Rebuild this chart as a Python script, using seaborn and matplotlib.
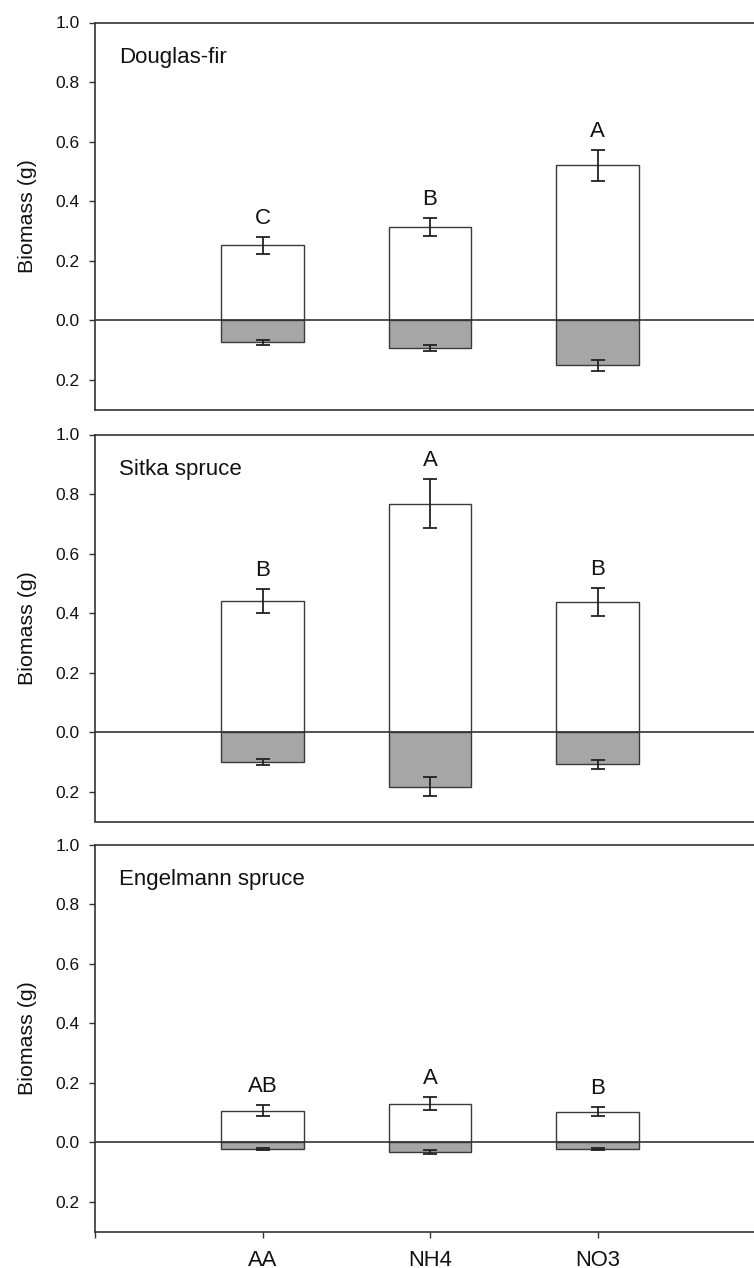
import numpy as np
import pandas as pd
import matplotlib
matplotlib.use("Agg")
import matplotlib.pyplot as plt
import seaborn as sns

sns.set_theme(style="white")
plt.rcParams["font.family"] = ["Liberation Sans", "DejaVu Sans"]

treatments = ["AA", "NH4", "NO3"]
species = ["Douglas-fir", "Sitka spruce", "Engelmann spruce"]

# shoot biomass (g), above zero
shoot_mean = [
    [0.251, 0.314, 0.520],
    [0.440, 0.767, 0.438],
    [0.107, 0.130, 0.103],
]
shoot_se = [
    [0.028, 0.030, 0.053],
    [0.040, 0.082, 0.048],
    [0.020, 0.021, 0.015],
]
# root biomass (g), drawn below zero
root_mean = [
    [0.074, 0.093, 0.152],
    [0.101, 0.184, 0.108],
    [0.023, 0.032, 0.023],
]
root_se = [
    [0.009, 0.010, 0.018],
    [0.010, 0.032, 0.014],
    [0.003, 0.006, 0.003],
]
letters = [
    ["C", "B", "A"],
    ["B", "A", "B"],
    ["AB", "A", "B"],
]

y_ticks = [1.0, 0.8, 0.6, 0.4, 0.2, 0.0, -0.2]
y_tick_labels = ["1.0", "0.8", "0.6", "0.4", "0.2", "0.0", "0.2"]

W, H = 754, 1268
fig = plt.figure(figsize=(W / 100, H / 100), dpi=100)

ax_left = 95 / W
ax_width = 670 / W
ax_height = 387 / H
ax_bottoms = [1 - 409.5 / H, 1 - 821.5 / H, 1 - 1231.7 / H]

edge = "#3a3a3a"
axis_col = "#333333"
text_col = "#111111"

for k in range(3):
    ax = fig.add_axes([ax_left, ax_bottoms[k], ax_width, ax_height])
    df = pd.DataFrame({
        "treatment": treatments,
        "shoot": shoot_mean[k],
        "root": [-v for v in root_mean[k]],
    })
    sns.barplot(data=df, x="treatment", y="shoot", order=treatments, color="white",
                edgecolor=edge, linewidth=1.0, width=0.49, errorbar=None,
                saturation=1, ax=ax, zorder=2)
    sns.barplot(data=df, x="treatment", y="root", order=treatments, color="#a6a6a6",
                edgecolor=edge, linewidth=1.0, width=0.49, errorbar=None,
                saturation=1, ax=ax, zorder=2)
    xs = np.arange(len(treatments))
    ax.errorbar(xs, shoot_mean[k], yerr=shoot_se[k], fmt="none", ecolor="#222222",
                elinewidth=1.3, capsize=5, capthick=1.3, zorder=4)
    ax.errorbar(xs, [-v for v in root_mean[k]], yerr=root_se[k], fmt="none",
                ecolor="#222222", elinewidth=1.3, capsize=5, capthick=1.3, zorder=4)
    ax.axhline(0, color=axis_col, lw=1.2, zorder=3)

    for i in range(3):
        top = shoot_mean[k][i] + shoot_se[k][i]
        ax.text(xs[i], top + 0.062, letters[k][i], ha="center", va="center",
                fontsize=16, color=text_col)

    ax.text(0.036, 0.91, species[k], transform=ax.transAxes, ha="left", va="center",
            fontsize=16, color=text_col)

    ax.set_xlim(-1, 3)
    ax.set_ylim(-0.3, 1.0)
    ax.set_yticks(y_ticks)
    ax.set_yticklabels(y_tick_labels)
    ax.set_ylabel("Biomass (g)", fontsize=15.4, color=text_col)
    ax.yaxis.set_label_coords(-0.087, 0.5)
    ax.tick_params(axis="y", direction="out", length=6 * 0.72, width=1.0,
                   colors=axis_col, labelsize=12.5, labelcolor=text_col, pad=6.5,
                   left=True)
    if k == 2:
        ax.set_xticks([-1, 0, 1, 2, 3])
        ax.set_xticklabels(["", "AA", "NH4", "NO3", ""])
        ax.tick_params(axis="x", direction="out", length=6 * 0.72, width=1.0,
                       colors=axis_col, labelsize=15.8, labelcolor=text_col, pad=8.5,
                       bottom=True)
    else:
        ax.set_xticks([])
    ax.set_xlabel("")
    for side in ["left", "top", "bottom"]:
        ax.spines[side].set_color(axis_col)
        ax.spines[side].set_linewidth(1.2)
    ax.spines["right"].set_visible(False)
    ax.grid(False)

fig.savefig("out.png", dpi=100, facecolor="white")
